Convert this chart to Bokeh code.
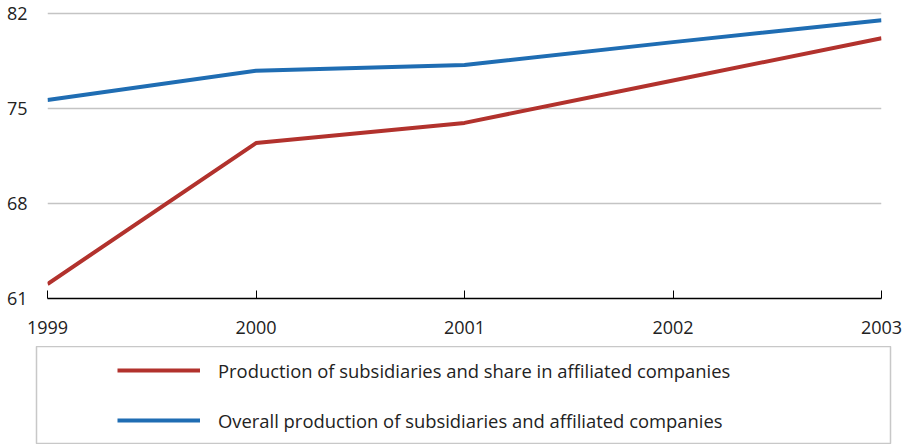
from bokeh.plotting import figure
from bokeh.models import Range1d, FixedTicker, Legend, LegendItem
from bokeh.embed import file_html
from bokeh.resources import INLINE

years = [1999, 2000, 2001, 2002, 2003]
subsidiaries_share = [62.07, 72.45, 73.94, 77.06, 80.18]
overall = [75.62, 77.78, 78.2, 79.89, 81.5]
y_ticks = [61, 68, 75, 82]
series_labels = [
    "Production of subsidiaries and share in affiliated companies",
    "Overall production of subsidiaries and affiliated companies",
]
RED = "#b2322d"
BLUE = "#1f6db3"
FONT = "Open Sans"
TXT = "#222222"

W = 910
UPP = 21 / 285.0          # data units per pixel on the y scale
top_pad = 2 * UPP         # keeps the top gridline just inside the frame
p = figure(width=W, height=346, output_backend="svg", toolbar_location=None,
           x_range=Range1d(1999, 2003),
           y_range=Range1d(y_ticks[0], y_ticks[-1] + top_pad),
           min_border_left=47, min_border_right=W - 881, min_border_top=11,
           min_border_bottom=48)
p.outline_line_color = None
p.background_fill_color = "white"

p.line(years, subsidiaries_share, line_color=RED, line_width=4)
p.line(years, overall, line_color=BLUE, line_width=4)

p.xaxis.ticker = FixedTicker(ticks=years)
p.xaxis.axis_line_color = "black"
p.xaxis.axis_line_width = 1.6
p.xaxis.major_tick_in = 8
p.xaxis.major_tick_out = 0
p.xaxis.major_tick_line_color = "black"
p.xaxis.minor_tick_line_color = None
p.xaxis.major_label_standoff = 22
p.xaxis.major_label_text_font = FONT
p.xaxis.major_label_text_font_size = "18px"
p.xaxis.major_label_text_color = TXT

p.yaxis.ticker = FixedTicker(ticks=y_ticks)
p.yaxis.axis_line_color = None
p.yaxis.major_tick_line_color = None
p.yaxis.minor_tick_line_color = None
p.yaxis.major_label_standoff = 14
p.yaxis.major_label_text_font = FONT
p.yaxis.major_label_text_font_size = "18px"
p.yaxis.major_label_text_color = TXT

p.xgrid.grid_line_color = None
p.ygrid.grid_line_color = "#c4c4c4"
p.ygrid.grid_line_width = 1.5

# legend box (separate root so its frame is not aligned with the chart)
q = figure(width=W, height=98, output_backend="svg", toolbar_location=None,
           x_range=Range1d(0, 1), y_range=Range1d(0, 1),
           min_border_left=36, min_border_right=W - 890, min_border_top=0,
           min_border_bottom=0, x_axis_type=None, y_axis_type=None)
q.grid.visible = False
q.outline_line_color = "#c8c8c8"
q.outline_line_width = 1.5
k1 = q.line(years, subsidiaries_share, line_color=RED, line_width=4)
k2 = q.line(years, overall, line_color=BLUE, line_width=4)
legend = Legend(items=[LegendItem(label=series_labels[0], renderers=[k1]),
                       LegendItem(label=series_labels[1], renderers=[k2])],
                location=(81, 11), padding=0, margin=0, spacing=24,
                glyph_width=83, glyph_height=26, label_height=26,
                label_standoff=18, border_line_color=None,
                background_fill_alpha=0,
                label_text_font=FONT, label_text_font_size="18.4px",
                label_text_color=TXT)
q.add_layout(legend)

open("out.html", "w").write(file_html([p, q], INLINE))
